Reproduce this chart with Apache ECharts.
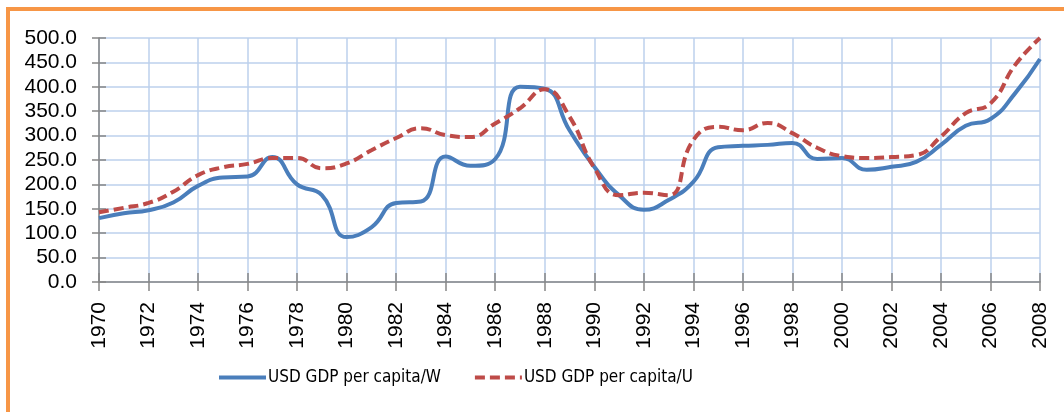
<!DOCTYPE html>
<html>
<head>
<meta charset="UTF-8">
<title>USD GDP per capita</title>
<script src="https://cdn.jsdelivr.net/npm/echarts@6/dist/echarts.min.js"></script>
<style>
  body { margin: 0; background: #fff; }
  #main { width: 1064px; height: 412px; }
  #frame { position: absolute; left: 6px; top: 7px; width: 1070px; height: 420px;
           border-top: 4px solid #F79646; border-left: 4px solid #F79646; pointer-events: none; }
</style>
</head>
<body>
<div id="main"></div>
<div id="frame"></div>
<script type="text/javascript">
// years 1970..2008
var years = [1970,1971,1972,1973,1974,1975,1976,1977,1978,1979,
             1980,1981,1982,1983,1984,1985,1986,1987,1988,1989,
             1990,1991,1992,1993,1994,1995,1996,1997,1998,1999,
             2000,2001,2002,2003,2004,2005,2006,2007,2008];
var gdpW = [131,141,147,163,197,214,216,256,200,178,
            92,112,162,165,257,238,252,400,396,311,
            236,178,148,168,205,276,279,281,285,252,
            254,230,236,246,281,320,334,387,457];
var gdpU = [143,152,162,185,219,235,242,254,254,233,
            243,270,295,315,301,297,325,356,395,339,
            234,178,183,178,291,318,311,326,305,275,
            258,254,256,260,298,346,366,445,500];
var seriesNames = ['USD GDP per capita/W', 'USD GDP per capita/U'];

function pairs(vals){
  var out = [];
  for (var i = 0; i < years.length; i++) out.push([years[i], vals[i]]);
  return out;
}

var myChart = echarts.init(document.getElementById('main'));
var labelFont = { fontFamily: 'Liberation Sans', fontSize: 21, color: '#000' };
var grid = { left: 99, top: 38, width: 941, height: 244 };

var option = {
  animation: false,
  grid: grid,
  legend: {
    left: 212, top: 364,
    itemWidth: 47, itemHeight: 14, itemGap: 32,
    itemStyle: { opacity: 0 },
    lineStyle: { width: 4 },
    textStyle: { fontFamily: "'DejaVu Sans Condensed', 'Liberation Sans'", fontSize: 17, color: '#000', padding: [0, 0, 0, -3] },
    data: seriesNames
  },
  xAxis: [
    {
      type: 'value', min: 1970, max: 2008, interval: 2,
      axisLine: { lineStyle: { color: '#868686', width: 1.5 } },
      axisTick: { length: 9, lineStyle: { color: '#868686', width: 1.5 } },
      axisLabel: Object.assign({ rotate: 90, margin: 20, formatter: function(v){ return String(v); } }, labelFont),
      splitLine: { lineStyle: { color: '#BCD0EC', width: 1.5 } }
    },
    {
      type: 'value', min: 1970, max: 2008, interval: 2, position: 'bottom',
      axisLine: { show: false },
      axisTick: { inside: true, length: 9, lineStyle: { color: '#868686', width: 1.5 } },
      axisLabel: { show: false }, splitLine: { show: false }
    }
  ],
  yAxis: [
    {
      type: 'value', min: 0, max: 500, interval: 50,
      axisLine: { show: true, lineStyle: { color: '#868686', width: 1.5 } },
      axisTick: { show: true, length: 7, lineStyle: { color: '#868686', width: 1.5 } },
      axisLabel: Object.assign({ margin: 22, formatter: function(v){ return v.toFixed(1); } }, labelFont),
      splitLine: { lineStyle: { color: '#BCD0EC', width: 1.5 } }
    },
    {
      type: 'value', min: 0, max: 500, interval: 50, position: 'left',
      axisLine: { show: false },
      axisTick: { show: true, inside: true, length: 7, lineStyle: { color: '#868686', width: 1.5 } },
      axisLabel: { show: false }, splitLine: { show: false }
    }
  ],
  series: [
    {
      name: seriesNames[0], type: 'line', smooth: 0.5,
      showSymbol: false, symbol: 'none',
      lineStyle: { color: '#4A7EBB', width: 4 },
      itemStyle: { color: '#4A7EBB' },
      data: pairs(gdpW)
    },
    {
      name: seriesNames[1], type: 'line', smooth: 0.5,
      showSymbol: false, symbol: 'none',
      lineStyle: { color: '#BE4B48', width: 4, type: [10, 5] },
      itemStyle: { color: '#BE4B48' },
      data: pairs(gdpU)
    }
  ]
};
myChart.setOption(option);
</script>
</body>
</html>
